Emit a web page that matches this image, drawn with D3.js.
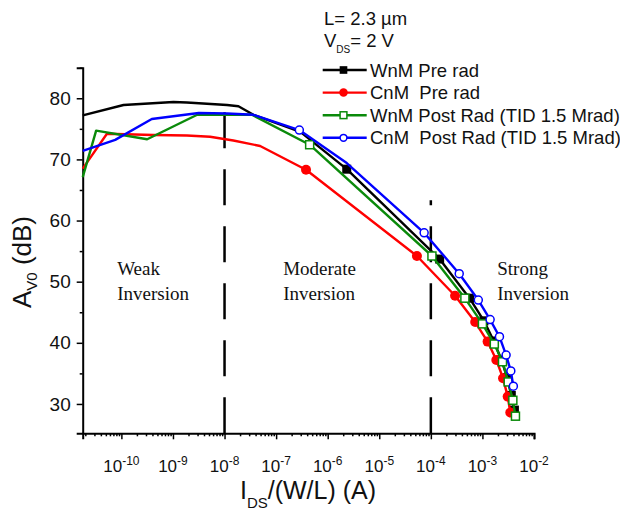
<!DOCTYPE html>
<html><head><meta charset="utf-8">
<script src="https://cdn.jsdelivr.net/npm/d3@7"></script>
<style>body{margin:0;background:#fff}svg{display:block}text{white-space:pre}</style>
</head><body>
<script>
// ---- data ----
const seriesNames = ["WnM Pre rad", "CnM  Pre rad", "WnM Post Rad (TID 1.5 Mrad)", "CnM  Post Rad (TID 1.5 Mrad)"];
// WnM Pre rad
const wnmPreI = [1.78e-11, 1.10e-10, 1.02e-9, 1.86e-9, 1.12e-8, 1.86e-8, 3.63e-8, 2.95e-7, 2.34e-6, 1.48e-4, 5.62e-4, 1.07e-3, 1.66e-3, 2.34e-3, 3.02e-3, 3.63e-3, 4.17e-3];
const wnmPreA = [77.2, 78.9, 79.4, 79.3, 78.9, 78.7, 77.3, 74.5, 68.4, 53.7, 47.3, 43.6, 40.3, 37.2, 34.3, 31.4, 29.0];
const wnmPreMarks = [8, 9, 10, 11, 12, 13, 14, 15, 16];
// CnM Pre rad
const cnmPreI = [1.78e-11, 5.25e-11, 4.17e-10, 1.86e-9, 5.25e-9, 1.48e-8, 4.90e-8, 3.80e-7, 5.37e-5, 2.95e-4, 7.24e-4, 1.26e-3, 1.86e-3, 2.51e-3, 3.09e-3, 3.47e-3];
const cnmPreA = [68.5, 74.2, 74.0, 73.9, 73.7, 73.1, 72.2, 68.3, 54.2, 47.7, 43.4, 40.2, 37.2, 34.2, 31.2, 28.6];
const cnmPreMarks = [7, 8, 9, 10, 11, 12, 13, 14, 15];
// WnM Post Rad
const wnmPostI = [1.78e-11, 3.24e-11, 3.16e-10, 2.95e-9, 3.39e-8, 4.47e-7, 1.05e-4, 4.57e-4, 1.00e-3, 1.70e-3, 2.45e-3, 3.16e-3, 3.89e-3, 4.37e-3];
const wnmPostA = [67.1, 74.7, 73.3, 77.3, 77.3, 72.4, 54.2, 47.3, 43.1, 39.8, 36.9, 33.6, 30.6, 28.0];
const wnmPostMarks = [5, 6, 7, 8, 9, 10, 11, 12, 13];
// CnM Post Rad
const cnmPostI = [1.78e-11, 7.59e-11, 3.89e-10, 3.16e-9, 1.12e-8, 3.63e-8, 2.82e-7, 2.34e-6, 7.41e-5, 3.55e-4, 8.32e-4, 1.41e-3, 2.14e-3, 2.88e-3, 3.55e-3, 3.98e-3];
const cnmPostA = [71.4, 73.2, 76.6, 77.6, 77.5, 77.3, 74.8, 69.4, 58.0, 51.3, 47.0, 43.8, 41.0, 38.0, 35.4, 32.9];
const cnmPostMarks = [6, 8, 9, 10, 11, 12, 13, 14, 15];

const xTickExps = [-10, -9, -8, -7, -6, -5, -4, -3, -2];
const yTicks = [30, 40, 50, 60, 70, 80];
const regionBounds = [1e-8, 1e-4];
const regionLabels = [["Weak", "Inversion"], ["Moderate", "Inversion"], ["Strong", "Inversion"]];
const regionLabelI = [8.3e-11, 1.37e-7, 1.94e-3];

// ---- layout ----
const W = 620, H = 510;
const svg = d3.select("body").append("svg").attr("width", W).attr("height", H)
  .style("font-family", "'Liberation Sans', Arial, sans-serif");

const x = d3.scaleLog().domain([Math.pow(10, -10.75), 1e-2]).range([82.7, 534]);
const y = d3.scaleLinear().domain([25.2, 85]).range([433.3, 67.7]);

// axes
const xMinor = [];
for (let e = -11; e < -2; e++) for (let k = 2; k <= 9; k++) { const v = k * Math.pow(10, e); if (v >= x.domain()[0] && v <= 1e-2) xMinor.push(v); }
const xMaj = xTickExps.map(e => Math.pow(10, e));

const gx = svg.append("g").attr("transform", `translate(0,${y.range()[0]})`);
gx.call(d3.axisBottom(x).tickValues(xMinor).tickSize(3).tickFormat(""));
gx.append("g").call(d3.axisBottom(x).tickValues(xMaj).tickSize(6).tickFormat(""));
gx.selectAll("path.domain").attr("stroke", "#000").attr("stroke-width", 2);
gx.selectAll(".tick line").attr("stroke", "#000").attr("stroke-width", 1.5);
gx.select("g path.domain").remove();
xMaj.forEach((v, i) => {
  const t = gx.append("text").attr("x", x(v)).attr("y", 38.5).attr("text-anchor", "middle")
    .attr("font-size", 17).attr("fill", "#111");
  t.append("tspan").text("10");
  t.append("tspan").attr("dy", -7).attr("font-size", 12).text(String(xTickExps[i]));
});

const gy = svg.append("g").attr("transform", `translate(${x.range()[0]},0)`);
const yMinor = [35, 45, 55, 65, 75, 85];
gy.call(d3.axisLeft(y).tickValues(yMinor).tickSize(3).tickFormat(""));
gy.append("g").call(d3.axisLeft(y).tickValues(yTicks).tickSize(6).tickPadding(6));
gy.selectAll("path.domain").attr("stroke", "#000").attr("stroke-width", 2);
gy.select("g path.domain").remove();
gy.selectAll(".tick line").attr("stroke", "#000").attr("stroke-width", 1.5);
gy.selectAll(".tick text").attr("font-size", 19).attr("fill", "#111")
  .attr("font-family", "'Liberation Sans', Arial, sans-serif");

// axis titles
const yt = svg.append("text").attr("transform", `translate(31,262) rotate(-90)`)
  .attr("text-anchor", "middle").attr("font-size", 26).attr("fill", "#111");
yt.append("tspan").text("A");
yt.append("tspan").attr("dy", 6).attr("font-size", 15).text("V0");
yt.append("tspan").attr("dy", -6).text(" (dB)");

const xt = svg.append("text").attr("x", 308).attr("y", 499)
  .attr("text-anchor", "middle").attr("font-size", 25).attr("fill", "#111");
xt.append("tspan").text("I");
xt.append("tspan").attr("dy", 9).attr("font-size", 15).text("DS");
xt.append("tspan").attr("dy", -9).text("/(W/L) (A)");

// region dashed lines
const regionTop = [78.2, 63.3];
regionBounds.forEach((v, i) => {
  svg.append("line").attr("x1", x(v)).attr("x2", x(v))
    .attr("y1", y.range()[0]).attr("y2", y(regionTop[i]))
    .attr("stroke", "#000").attr("stroke-width", 2.5).attr("stroke-dasharray", "36,21");
});
// region labels
regionLabels.forEach((lines, i) => {
  const t = svg.append("text").attr("font-family", "'Liberation Serif', 'Times New Roman', serif")
    .attr("font-size", 19).attr("fill", "#111");
  lines.forEach((s, j) => t.append("tspan").attr("x", x(regionLabelI[i])).attr("y", 275 + j * 24.5).text(s));
});

// series
const colors = ["#000000", "#ff0000", "#0a8a0a", "#0000ff"];
const seriesI = [wnmPreI, cnmPreI, wnmPostI, cnmPostI];
const seriesA = [wnmPreA, cnmPreA, wnmPostA, cnmPostA];
const seriesMarks = [wnmPreMarks, cnmPreMarks, wnmPostMarks, cnmPostMarks];
const line = d3.line().x(d => x(d[0])).y(d => y(d[1]));

function drawMarker(g, type, cx, cy, color, scale) {
  const s = scale || 1;
  if (type === 0) g.append("rect").attr("x", cx - 4.5 * s).attr("y", cy - 4.5 * s).attr("width", 9 * s).attr("height", 9 * s).attr("fill", color);
  else if (type === 1) g.append("circle").attr("cx", cx).attr("cy", cy).attr("r", 5 * s).attr("fill", color);
  else if (type === 2) g.append("rect").attr("x", cx - 4 * s).attr("y", cy - 4 * s).attr("width", 8 * s).attr("height", 8 * s).attr("fill", "#fff").attr("stroke", color).attr("stroke-width", 1.5);
  else g.append("circle").attr("cx", cx).attr("cy", cy).attr("r", 4 * s).attr("fill", "#fff").attr("stroke", color).attr("stroke-width", 1.5);
}

seriesI.forEach((I, si) => {
  const pts = I.map((v, k) => [v, seriesA[si][k]]);
  const g = svg.append("g");
  g.append("path").attr("d", line(pts)).attr("fill", "none").attr("stroke", colors[si]).attr("stroke-width", 2.4).attr("stroke-linejoin", "round");
  seriesMarks[si].forEach(k => drawMarker(g, si, x(pts[k][0]), y(pts[k][1]), colors[si]));
});

// legend
const lg = svg.append("g").attr("font-size", 18.5).attr("fill", "#111");
lg.append("text").attr("x", 324).attr("y", 25).text("L= 2.3 µm");
const vt = lg.append("text").attr("x", 324).attr("y", 47);
vt.append("tspan").text("V");
vt.append("tspan").attr("dy", 6).attr("font-size", 10).text("DS");
vt.append("tspan").attr("dy", -6).text("= 2 V");
seriesNames.forEach((n, i) => {
  const ly = 70 + i * 22.6;
  lg.append("line").attr("x1", 322.7).attr("x2", 366.7).attr("y1", ly).attr("y2", ly).attr("stroke", colors[i]).attr("stroke-width", 2.4);
  drawMarker(lg, i, 343.5, ly, colors[i], 0.85);
  lg.append("text").attr("x", 370).attr("y", ly + 6.5).text(n);
});
</script>
</body></html>
